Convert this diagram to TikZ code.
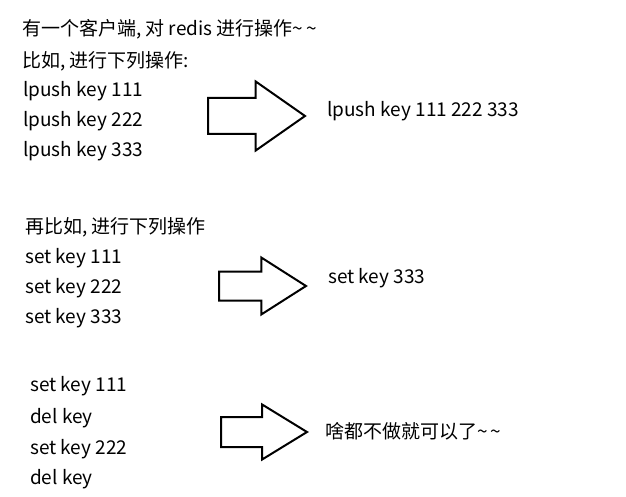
\documentclass[tikz,border=0pt]{standalone}
\usepackage{fontspec}
\setmainfont{Noto Sans CJK SC}
\usetikzlibrary{shapes.arrows}
\definecolor{fg}{HTML}{000000}
\definecolor{stroke}{HTML}{000000}

\begin{document}
\begin{tikzpicture}[
  x=1pt, y=-1pt,
  every node/.append style={text=fg},
  txt/.style={anchor=west, inner sep=0pt, font=\fontsize{19}{23}\selectfont},
  bigarrow/.style={single arrow, draw=stroke, line width=2pt, fill=white,
    anchor=tail, minimum width=0pt, inner xsep=0pt, shape border rotate=0},
]
\useasboundingbox (0,0) rectangle (626,497);
% first case: lpush
\node[txt] (intro) at (22,29) {有一个客户端, 对 redis 进行操作\textasciitilde\,\textasciitilde};
\node[txt] (ask1) at (22,61) {比如, 进行下列操作:};
\node[txt] (lp1) at (23,91) {lpush key 111};
\node[txt] (lp2) at (23,121) {lpush key 222};
\node[txt] (lp3) at (23,151) {lpush key 333};
\node[bigarrow, inner ysep=17pt, single arrow head extend=16.5pt,
  single arrow tip angle=70, minimum height=97pt] (arr1) at (207,116) {};
\node[txt] (res1) at (327,111) {lpush key 111 222 333};
% second case: set
\node[txt] (ask2) at (25,227) {再比如, 进行下列操作};
\node[txt] (st1) at (25,258) {set key 111};
\node[txt] (st2) at (25,288) {set key 222};
\node[txt] (st3) at (25,318) {set key 333};
\node[bigarrow, inner ysep=13.5pt, single arrow head extend=14pt,
  single arrow tip angle=65, minimum height=87pt] (arr2) at (218,286) {};
\node[txt] (res2) at (328,278) {set key 333};
% third case: set + del
\node[txt] (sd1) at (30,386) {set key 111};
\node[txt] (sd2) at (30,418) {del key};
\node[txt] (sd3) at (30,449) {set key 222};
\node[txt] (sd4) at (30,479) {del key};
\node[bigarrow, inner ysep=14pt, single arrow head extend=12.5pt,
  single arrow tip angle=63, minimum height=86pt] (arr3) at (220,432) {};
\node[txt] (res3) at (325,431) {啥都不做就可以了\textasciitilde\,\textasciitilde};
\end{tikzpicture}
\end{document}
